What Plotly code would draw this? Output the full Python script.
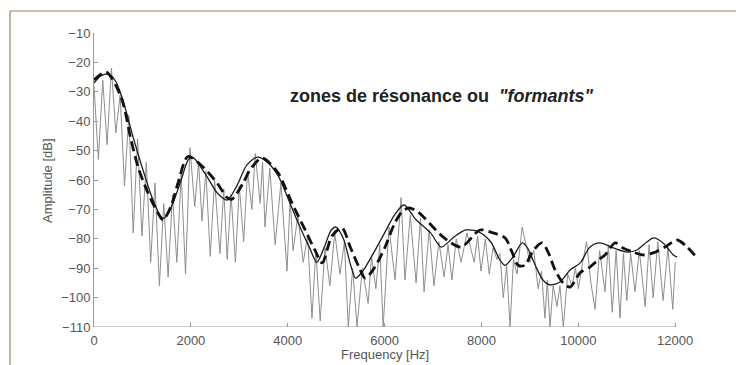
import plotly.graph_objects as go

# ---- data ----
spec_freq = [0, 90, 180, 270, 360, 450, 540, 630, 720, 810, 900, 990, 1080, 1170, 1260, 1350,
             1440, 1530, 1620, 1710, 1800, 1890, 1980, 2080, 2160, 2230, 2310, 2400, 2490, 2600,
             2680, 2750, 2830, 2920, 3000, 3090, 3170, 3260, 3330, 3430, 3480, 3530, 3630, 3740,
             3860, 3985, 4050, 4110, 4210, 4320, 4410, 4500, 4580, 4670, 4770, 4870, 4970, 5080,
             5170, 5250, 5340, 5430, 5540, 5660, 5730, 5820, 5900, 5970, 6090, 6215, 6340, 6420,
             6530, 6650, 6740, 6815, 6920, 7020, 7120, 7230, 7310, 7390, 7480, 7580, 7700, 7850,
             7920, 7990, 8080, 8160, 8240, 8320, 8380, 8450, 8520, 8590, 8660, 8735, 8840, 9000,
             9080, 9170, 9240, 9310, 9360, 9415, 9480, 9560, 9620, 9690, 9780, 9870, 9940, 10000,
             10090, 10170, 10260, 10345, 10440, 10550, 10620, 10700, 10780, 10860, 10930, 11000,
             11080, 11170, 11260, 11380, 11460, 11545, 11640, 11750, 11850, 11950, 12000]
spec_db = [-28, -53, -26, -48, -22, -44, -31, -62, -38, -78, -46, -79, -54, -88, -61, -96,
           -68, -93, -65, -88, -58, -92, -49, -69, -54, -74, -57, -86, -60, -85,
           -63, -87, -65, -88, -62, -81, -57, -70, -51, -68, -54, -76, -56, -82,
           -61, -91, -66, -84, -72, -88, -79, -107, -84, -108, -83, -96, -78, -92,
           -81, -110, -90, -110, -90, -102, -86, -97, -82, -110, -76, -94, -66, -94,
           -72, -95, -73, -98, -77, -96, -81, -93, -82, -94, -80, -88, -78, -88,
           -79, -91, -80, -92, -83, -87, -85, -100, -89, -110, -87, -92, -76, -88,
           -84, -97, -91, -107, -94, -110, -96, -103, -96, -110, -92, -96, -90, -97,
           -88, -81, -95, -104, -84, -98, -82, -105, -84, -107, -85, -101,
           -85, -98, -84, -103, -82, -100, -81, -101, -83, -104, -88]

env_freq = [0, 150, 300, 450, 600, 800, 1000, 1200, 1380, 1450, 1600, 1800, 1950, 2050, 2300,
            2550, 2750, 2950, 3150, 3370, 3550, 3800, 4000, 4200, 4450, 4600, 4750, 4900, 5000,
            5150, 5300, 5400, 5550, 5800, 6000, 6200, 6400, 6650, 6950, 7170, 7430, 7680, 7950,
            8190, 8380, 8490, 8650, 8840, 8940, 9110, 9270, 9420, 9620, 9830, 10040, 10240,
            10450, 10720, 11010, 11210, 11420, 11550, 11750, 11960, 12040]
env_db = [-27, -24.5, -24, -26.5, -33, -45, -56, -66, -72.5, -73, -69, -60, -53, -52.5, -58,
          -64.5, -66.8, -62, -55, -52.2, -53.5, -58.5, -66, -74, -83, -88, -83, -77, -76,
          -80, -89, -93.4, -91, -84, -78, -72, -68.5, -73.5, -78, -82.8, -79.4, -77, -77.7,
          -81, -87.2, -89, -86.2, -81.4, -82.8, -89, -94, -95.7, -94.7, -90.6, -88.2, -82.8,
          -81.4, -83.1, -84.5, -83.8, -81, -79.7, -81.4, -85.5, -86.2]

dash_freq = [0, 250, 560, 760, 910, 1115, 1320, 1425, 1590, 1735, 1940, 2250, 2540, 2750, 2850,
             3080, 3220, 3470, 3800, 3985, 4150, 4360, 4560, 4710, 4915, 5120, 5290, 5470, 5600,
             5800, 6010, 6200, 6350, 6500, 6700, 6960, 7230, 7580, 7970, 8240, 8490, 8630, 8755,
             8900, 9045, 9250, 9375, 9520, 9685, 9830, 10035, 10240, 10410, 10550, 10760, 10920,
             11130, 11340, 11545, 11790, 12040, 12245, 12450]
dash_db = [-26, -23.3, -31.8, -46, -55.6, -64.4, -71.2, -73.6, -69, -61, -52, -55.6, -61, -66,
           -66.5, -61, -56.6, -52.5, -57.6, -64, -70, -77, -83.8, -88.2, -79, -76.3, -82.8,
           -89.6, -93.4, -89.6, -82.8, -75, -71, -69.5, -71, -75.3, -79.7, -82.8, -77, -78,
           -79.7, -84.5, -89, -89, -84.5, -81.4, -84.5, -90.6, -95, -96.4, -91.6, -89.6, -87.2,
           -85.5, -81.4, -83.1, -84.5, -85.5, -84.8, -82.8, -80.4, -82.8, -86.5]

x_ticks = [0, 2000, 4000, 6000, 8000, 10000, 12000]
x_tick_text = ["0", "2000", "4000", "6000", "8000", "10000", "12000"]
y_ticks = [-110, -100, -90, -80, -70, -60, -50, -40, -30, -20, -10]

title_text = '<b>zones de résonance ou  <i>"formants"</i></b>'
x_title = "Frequency [Hz]"
y_title = "Amplitude [dB]"

FONT = "Liberation Sans, Arial, sans-serif"

fig = go.Figure()
fig.add_trace(go.Scatter(x=spec_freq, y=spec_db, mode="lines",
                         line=dict(color="#8e8e8e", width=1), hoverinfo="skip"))
fig.add_trace(go.Scatter(x=env_freq, y=env_db, mode="lines",
                         line=dict(color="#1e1e1e", width=1.3, shape="spline", smoothing=0.8),
                         hoverinfo="skip"))
fig.add_trace(go.Scatter(x=dash_freq, y=dash_db, mode="lines",
                         line=dict(color="#111111", width=2.8, dash="10px,5px",
                                   shape="spline", smoothing=0.8),
                         hoverinfo="skip"))

# frame (top and left of the surrounding box)
fig.add_shape(type="line", xref="paper", yref="paper", x0=-0.1393, x1=1.2, y0=1.0748, y1=1.0748,
              line=dict(color="#a57a5a", width=1.2))
fig.add_shape(type="line", xref="paper", yref="paper", x0=-0.1393, x1=-0.1393, y0=1.0748, y1=-0.3,
              line=dict(color="#a57a5a", width=1.2))
# bottom axis line up to the last tick
fig.add_shape(type="line", xref="x", yref="y", x0=x_ticks[0], x1=x_ticks[-1],
              y0=y_ticks[0], y1=y_ticks[0], line=dict(color="#9a9a9a", width=1))

fig.add_annotation(text=title_text, xref="paper", yref="paper", x=0.3217, y=0.786,
                   xanchor="left", yanchor="middle", showarrow=False,
                   font=dict(family=FONT, size=18, color="#222"))
fig.add_annotation(text=x_title, xref="paper", yref="paper", x=0.4826, y=-0.095,
                   xanchor="center", yanchor="middle", showarrow=False,
                   font=dict(family=FONT, size=13, color="#555"))
fig.add_annotation(text=y_title, xref="paper", yref="paper", x=-0.078, y=0.5, textangle=-90,
                   xanchor="center", yanchor="middle", showarrow=False,
                   font=dict(family=FONT, size=13, color="#555"))

fig.update_layout(
    width=736, height=365,
    margin=dict(l=94, r=39, t=33, b=38),
    paper_bgcolor="white", plot_bgcolor="white",
    showlegend=False,
    xaxis=dict(range=[0, 12450], tickvals=x_ticks, ticktext=x_tick_text, ticks="inside",
               ticklen=4, tickcolor="#9a9a9a", showline=False, showgrid=False, zeroline=False,
               ticklabelstandoff=4,
               tickfont=dict(family=FONT, size=13, color="#555")),
    yaxis=dict(range=[-110, -10], tickvals=y_ticks, ticks="inside", ticklen=4,
               tickcolor="#9a9a9a", showline=True, linecolor="#9a9a9a", linewidth=1,
               showgrid=False, zeroline=False,
               tickfont=dict(family=FONT, size=13, color="#555")),
)

fig.write_html("out.html")
